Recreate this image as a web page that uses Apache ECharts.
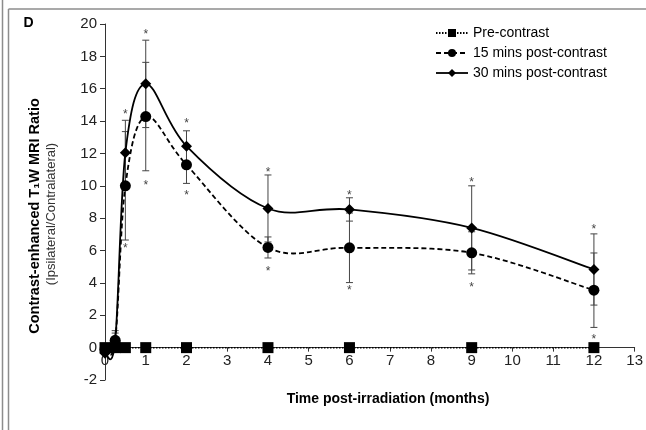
<!DOCTYPE html>
<html>
<head>
<meta charset="utf-8">
<script src="https://cdn.jsdelivr.net/npm/echarts@6/dist/echarts.min.js"></script>
<style>html,body{margin:0;padding:0;background:#fff;}#c{width:646px;height:430px;}</style>
</head>
<body>
<div id="c"></div>
<script>
// ---- data ----
var times = [0, 0.25, 0.5, 1, 2, 4, 6, 9, 12];
var preContrast = [0, 0, 0, 0, 0, 0, 0, 0, 0];
var post15 = [-0.1, 0.45, 10.0, 14.28, 11.3, 6.19, 6.17, 5.86, 3.55];
var post15Err = [0, 0.6, 3.35, 3.35, 1.15, 0.65, 2.15, 1.3, 2.3];
var post30 = [-0.35, 0.4, 12.05, 16.3, 12.45, 8.6, 8.54, 7.4, 4.83];
var post30Err = [0, 0.5, 2.0, 2.7, 0.95, 2.07, 0.72, 2.6, 2.2];
var starTimes = [0.5, 1, 2, 4, 6, 9, 12];
var starTop = [14.6, 19.5, 14.0, 11.0, 9.6, 10.4, 7.47];
var starBottom = [6.3, 10.2, 9.6, 4.9, 3.7, 3.9, 0.7];
var seriesNames = ['Pre-contrast', '15 mins post-contrast', '30 mins post-contrast'];
var xTitle = 'Time post-irradiation (months)';
var yTitle1 = 'Contrast-enhanced T\u2081W MRI Ratio';
var yTitle2 = '(Ipsilateral/Contralateral)';
var panelLabel = 'D';

function pairs(ys) { return times.map(function (t, i) { return [t, ys[i]]; }); }
function errData(ys, es) {
  var out = [];
  times.forEach(function (t, i) { if (es[i] > 0) out.push([t, ys[i] - es[i], ys[i] + es[i]]); });
  return out;
}
var stars = [];
starTimes.forEach(function (t, i) { stars.push([t, starTop[i]]); stars.push([t, starBottom[i]]); });

var font = '"Liberation Sans", Arial, Helvetica, sans-serif';

function renderErr(params, api) {
  var x = api.value(0);
  var lo = api.coord([x, api.value(1)]);
  var hi = api.coord([x, api.value(2)]);
  var w = 3.5;
  var st = { stroke: '#444', lineWidth: 1 };
  return {
    type: 'group',
    children: [
      { type: 'line', shape: { x1: lo[0], y1: lo[1], x2: hi[0], y2: hi[1] }, style: st },
      { type: 'line', shape: { x1: lo[0] - w, y1: lo[1], x2: lo[0] + w, y2: lo[1] }, style: st },
      { type: 'line', shape: { x1: hi[0] - w, y1: hi[1], x2: hi[0] + w, y2: hi[1] }, style: st }
    ]
  };
}
function renderStar(params, api) {
  var p = api.coord([api.value(0), api.value(1)]);
  return {
    type: 'text',
    x: p[0], y: p[1] + 3,
    style: { text: '*', fill: '#444', font: '12px ' + font, textAlign: 'center', textVerticalAlign: 'middle' }
  };
}
// Excel-style smoothed curve (Catmull-Rom bezier through the data points)
function makeCurve(vals, dash) {
  return function (params, api) {
    if (params.dataIndex !== 0) return null;
    var p = times.map(function (t, i) { return api.coord([t, vals[i]]); });
    var n = p.length, kids = [];
    for (var i = 0; i < n - 1; i++) {
      var p0 = p[Math.max(i - 1, 0)], p1 = p[i], p2 = p[i + 1], p3 = p[Math.min(i + 2, n - 1)];
      kids.push({
        type: 'bezierCurve',
        shape: {
          x1: p1[0], y1: p1[1], x2: p2[0], y2: p2[1],
          cpx1: p1[0] + (p2[0] - p0[0]) / 6, cpy1: p1[1] + (p2[1] - p0[1]) / 6,
          cpx2: p2[0] - (p3[0] - p1[0]) / 6, cpy2: p2[1] - (p3[1] - p1[1]) / 6
        },
        style: { stroke: '#000', fill: null, lineWidth: 1.8, lineDash: dash }
      });
    }
    return { type: 'group', children: kids };
  };
}

var chart = echarts.init(document.getElementById('c'), null, { renderer: 'canvas' });
chart.setOption({
  animation: false,
  backgroundColor: '#fff',
  grid: { left: 105, right: 11, top: 24, bottom: 50, containLabel: false },
  legend: {
    data: [
      { name: seriesNames[0] },
      { name: seriesNames[1], lineStyle: { color: '#000', width: 1.8, type: [5, 3], opacity: 1 } },
      { name: seriesNames[2], lineStyle: { color: '#000', width: 1.8, type: 'solid', opacity: 1 } }
    ],
    orient: 'vertical',
    left: 430, top: 21,
    itemWidth: 32, itemHeight: 10, itemGap: 6,
    textStyle: { fontSize: 14, color: '#000', fontFamily: font }
  },
  xAxis: {
    type: 'value', min: 0, max: 13, interval: 1,
    offset: -32.36,
    axisLine: { onZero: false, lineStyle: { color: '#333', width: 1 } },
    axisTick: { show: true, length: 4, lineStyle: { color: '#333' } },
    splitLine: { show: false },
    axisLabel: { fontSize: 15, color: '#222', fontFamily: font, margin: 6 }
  },
  yAxis: {
    type: 'value', min: -2, max: 20, interval: 2,
    axisLine: { show: true, onZero: false, lineStyle: { color: '#333', width: 1 } },
    axisTick: { show: true, length: 5, lineStyle: { color: '#333' } },
    splitLine: { show: false },
    axisLabel: { fontSize: 15, color: '#222', fontFamily: font, margin: 8 }
  },
  graphic: [
    { type: 'line', shape: { x1: 2.5, y1: 0, x2: 2.5, y2: 430 }, style: { stroke: '#8c8c8c', lineWidth: 1.5 } },
    { type: 'line', shape: { x1: 8.5, y1: 9, x2: 8.5, y2: 430 }, style: { stroke: '#8c8c8c', lineWidth: 1.5 } },
    { type: 'line', shape: { x1: 8.5, y1: 9, x2: 646, y2: 9 }, style: { stroke: '#8c8c8c', lineWidth: 1.5 } },
    { type: 'text', x: 28.5, y: 23, style: { text: panelLabel, font: 'bold 14px ' + font, fill: '#000', textAlign: 'center', textVerticalAlign: 'middle' } },
    { type: 'text', x: 388, y: 399, style: { text: xTitle, font: 'bold 14px ' + font, fill: '#000', textAlign: 'center', textVerticalAlign: 'middle' } },
    { type: 'text', x: 35, y: 216, rotation: Math.PI / 2, style: { text: yTitle1, font: 'bold 14.5px ' + font, fill: '#000', textAlign: 'center', textVerticalAlign: 'middle' } },
    { type: 'text', x: 51, y: 214, rotation: Math.PI / 2, style: { text: yTitle2, font: '13px ' + font, fill: '#333', textAlign: 'center', textVerticalAlign: 'middle' } }
  ],
  series: [
    { type: 'custom', name: 'err15', renderItem: renderErr, data: errData(post15, post15Err), z: 1, silent: true },
    { type: 'custom', name: 'err30', renderItem: renderErr, data: errData(post30, post30Err), z: 1, silent: true },
    { type: 'custom', name: 'stars', renderItem: renderStar, data: stars, z: 1, silent: true },
    { type: 'custom', name: 'curve15', renderItem: makeCurve(post15, [5, 3]), data: pairs(post15), z: 2, silent: true },
    { type: 'custom', name: 'curve30', renderItem: makeCurve(post30, null), data: pairs(post30), z: 2, silent: true },
    {
      name: seriesNames[0], type: 'line', data: pairs(preContrast), z: 3,
      symbol: 'rect', symbolSize: 11,
      lineStyle: { color: '#000', width: 1.5, type: [1.5, 1.5] },
      itemStyle: { color: '#000' }
    },
    {
      name: seriesNames[1], type: 'line', data: pairs(post15), z: 4,
      symbol: 'circle', symbolSize: 11,
      lineStyle: { color: '#000', width: 1.8, type: [5, 3], opacity: 0 },
      itemStyle: { color: '#000' }
    },
    {
      name: seriesNames[2], type: 'line', data: pairs(post30), z: 5,
      symbol: 'diamond', symbolSize: 11,
      lineStyle: { color: '#000', width: 1.8, opacity: 0 },
      itemStyle: { color: '#000' }
    }
  ]
});
</script>
</body>
</html>
